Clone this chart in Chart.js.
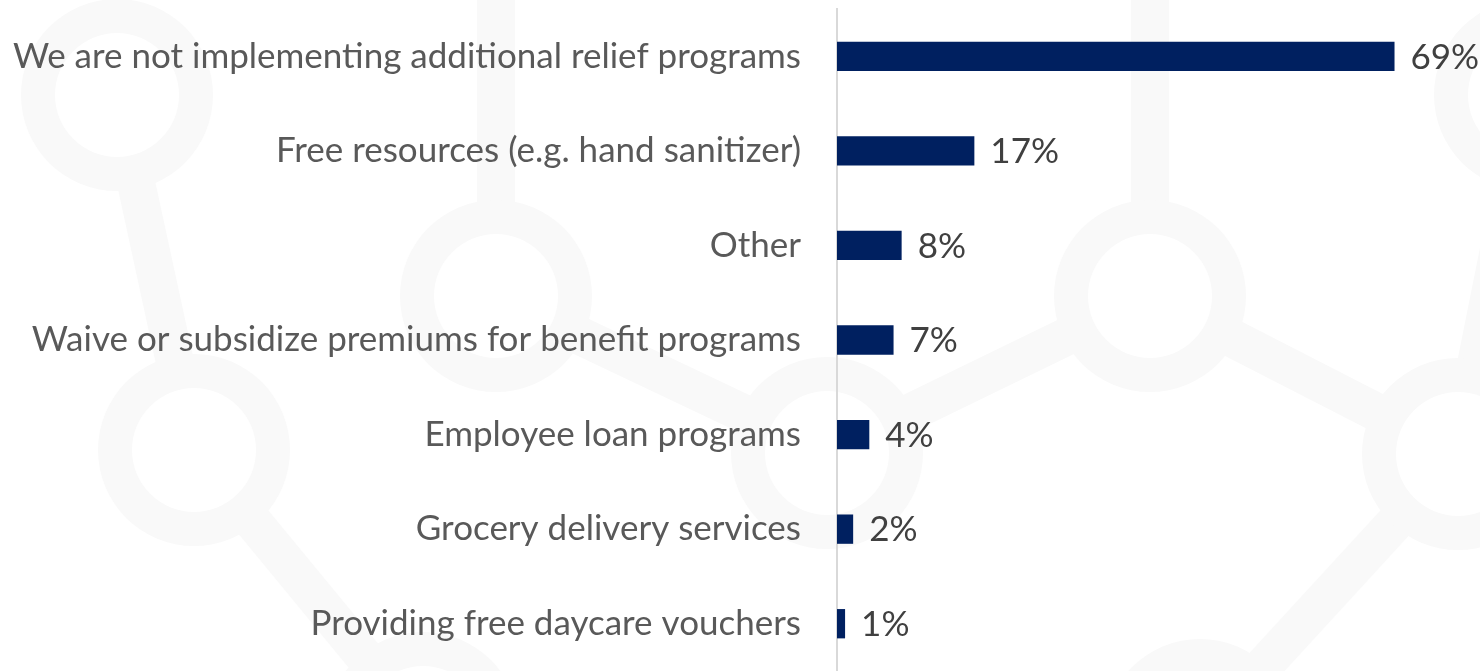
<!DOCTYPE html>
<html>
<head>
<meta charset="utf-8">
<script src="https://cdn.jsdelivr.net/npm/chart.js@4/dist/chart.umd.min.js"></script>
<style>
  html, body { margin: 0; padding: 0; background: #ffffff; }
  #wrap { width: 1480px; height: 671px; position: relative; }
</style>
</head>
<body>
<div id="wrap"><canvas id="reliefChart"></canvas></div>
<script>
// === data ===
const categories = [
  'We are not implementing additional relief programs',
  'Free resources (e.g. hand sanitizer)',
  'Other',
  'Waive or subsidize premiums for benefit programs',
  'Employee loan programs',
  'Grocery delivery services',
  'Providing free daycare vouchers'
];
const shares = [69, 17, 8, 7, 4, 2, 1];
const shareLabels = ['69%', '17%', '8%', '7%', '4%', '2%', '1%'];

const NAVY = '#002060';
const FONT = 'Lato, "Open Sans", sans-serif';
const FONT_SIZE = 35;

// === faint molecule pattern behind the chart ===
const nodes = {
  A: [117, 95], B: [194, 450], C: [496, 296], D: [423, 728], E: [827, 453],
  F: [1150, 296], G: [1458, 454], H: [1530, 95], I: [1200, 735],
  Ctop: [496, -60], Ftop: [1150, -60]
};
const links = [['A', 'B'], ['B', 'D'], ['C', 'Ctop'], ['C', 'E'], ['E', 'F'],
  ['F', 'Ftop'], ['F', 'G'], ['G', 'H'], ['G', 'I']];
const rings = ['A', 'B', 'C', 'D', 'E', 'F', 'G', 'H', 'I'];
const PATTERN_GREY = '#f9f9f9';

const backdrop = {
  id: 'backdrop',
  beforeDraw(chart) {
    const ctx = chart.ctx;
    ctx.save();
    ctx.fillStyle = '#ffffff';
    ctx.fillRect(0, 0, chart.width, chart.height);
    ctx.strokeStyle = PATTERN_GREY;
    ctx.lineWidth = 38;
    links.forEach(([a, b]) => {
      ctx.beginPath();
      ctx.moveTo(nodes[a][0], nodes[a][1]);
      ctx.lineTo(nodes[b][0], nodes[b][1]);
      ctx.stroke();
    });
    rings.forEach(k => {
      const [x, y] = nodes[k];
      ctx.fillStyle = PATTERN_GREY;
      ctx.beginPath();
      ctx.arc(x, y, 96, 0, Math.PI * 2);
      ctx.fill();
      ctx.fillStyle = '#ffffff';
      ctx.beginPath();
      ctx.arc(x, y, 62, 0, Math.PI * 2);
      ctx.fill();
    });
    ctx.restore();
  }
};

// value text just past the end of each bar
const valueLabels = {
  id: 'valueLabels',
  afterDatasetsDraw(chart) {
    const ctx = chart.ctx;
    const meta = chart.getDatasetMeta(0);
    ctx.save();
    ctx.font = FONT_SIZE + 'px ' + FONT;
    ctx.fillStyle = '#404040';
    ctx.textAlign = 'left';
    ctx.textBaseline = 'middle';
    meta.data.forEach((bar, i) => {
      ctx.fillText(shareLabels[i], bar.x + 16, bar.y + 1);
    });
    ctx.restore();
  }
};

const ctx = document.getElementById('reliefChart').getContext('2d');
new Chart(ctx, {
  type: 'bar',
  data: {
    labels: categories,
    datasets: [{
      data: shares,
      backgroundColor: NAVY,
      borderWidth: 0,
      barPercentage: 0.31,
      categoryPercentage: 1
    }]
  },
  options: {
    indexAxis: 'y',
    responsive: true,
    maintainAspectRatio: false,
    animation: false,
    layout: { padding: { top: 9, right: 37, bottom: 0, left: 0 } },
    plugins: {
      legend: { display: false },
      tooltip: { enabled: false }
    },
    scales: {
      x: { min: 0, max: 75, display: false },
      y: {
        // fixed label column; tick padding should not eat into top/bottom
        afterFit: (scale) => {
          scale.width = 837;
          scale.paddingTop = 0;
          scale.paddingBottom = 0;
        },
        grid: { display: false, drawTicks: false },
        border: { display: true, color: '#d9d9d9', width: 2 },
        ticks: {
          padding: 36,
          color: '#595959',
          font: { family: FONT, size: FONT_SIZE }
        }
      }
    }
  },
  plugins: [backdrop, valueLabels]
});
</script>
</body>
</html>
